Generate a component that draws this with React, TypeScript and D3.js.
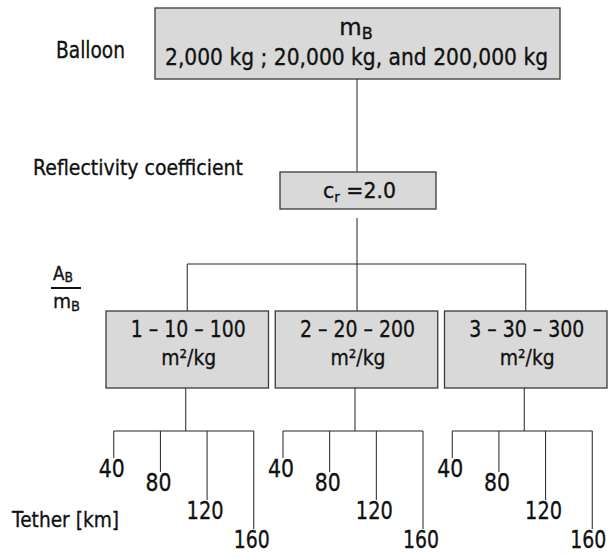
import React from "react";
import * as d3 from "d3";

// ---- data ----
const balloonLabel = "Balloon";
const balloonMasses = ["2,000 kg", "20,000 kg", "200,000 kg"];
const reflectivityLabel = "Reflectivity coefficient";
const reflectivityValue = "2.0";
const areaRatios = ["1 – 10 – 100", "2 – 20 – 200", "3 – 30 – 300"];
const areaUnit = "m²/kg";
const tetherLengths = [40, 80, 120, 160];
const tetherLabel = "Tether [km]";

// ---- layout ----
const W = 613;
const H = 557;
const FONT = "'DejaVu Sans', sans-serif";
const tetherDrop = [27, 41, 69, 98];
const tetherTextWidth = [26, 26, 37, 36];
const INK = "#111";
const EMB = 0.35;

type LabelProps = {
  x: number;
  y: number;
  size: number;
  width?: number;
  anchor?: "start" | "middle" | "end";
  children: React.ReactNode;
};

function Label({ x, y, size, width, anchor = "start", children }: LabelProps) {
  return (
    <text
      x={x}
      y={y}
      fontSize={size}
      fontFamily={FONT}
      fill={INK}
      stroke={INK}
      strokeWidth={EMB}
      textAnchor={anchor}
      textLength={width}
      lengthAdjust={width ? "spacingAndGlyphs" : undefined}
    >
      {children}
    </text>
  );
}

export default function App() {
  const boxBand = d3
    .scaleBand<string>()
    .domain(areaRatios)
    .range([106, 607])
    .paddingInner(0.04);
  const tetherX = d3
    .scaleLinear()
    .domain([d3.min(tetherLengths)!, d3.max(tetherLengths)!])
    .range([-72, 68]);

  const topBox = { x0: 155, x1: 560, y0: 8, y1: 79 };
  const crBox = { x0: 280, x1: 436, y0: 172, y1: 209 };
  const midX = 357;
  const boxTop = 311;
  const boxBottom = 388;
  const branchY = 264;
  const tetherY = 431;

  const boxFill = "#d9d9d9";
  const boxStroke = "#3a3a3a";
  const lineStroke = "#222";

  const massText = `${balloonMasses[0]} ; ${balloonMasses[1]}, and ${balloonMasses[2]}`;

  return (
    <svg
      width={W}
      height={H}
      style={{ position: "absolute", left: 0, top: 0, background: "#fff" }}
    >
      {/* Balloon level */}
      <Label x={56} y={58} size={23} width={69}>
        {balloonLabel}
      </Label>
      <rect
        x={topBox.x0}
        y={topBox.y0}
        width={topBox.x1 - topBox.x0}
        height={topBox.y1 - topBox.y0}
        fill={boxFill}
        stroke={boxStroke}
        strokeWidth={1.3}
      />
      <text x={356} y={35} fontFamily={FONT} fill={INK} stroke={INK} strokeWidth={EMB} textAnchor="middle" fontSize={23}>
        m
        <tspan fontSize={16} dy={4}>
          B
        </tspan>
      </text>
      <Label x={356.5} y={65} size={23} width={383} anchor="middle">
        {massText}
      </Label>

      {/* connector to reflectivity */}
      <line x1={midX} x2={midX} y1={topBox.y1} y2={crBox.y0} stroke={lineStroke} />

      {/* Reflectivity level */}
      <Label x={33} y={175} size={21} width={210}>
        {reflectivityLabel}
      </Label>
      <rect
        x={crBox.x0}
        y={crBox.y0}
        width={crBox.x1 - crBox.x0}
        height={crBox.y1 - crBox.y0}
        fill={boxFill}
        stroke={boxStroke}
        strokeWidth={1.3}
      />
      <text x={323} y={198} fontFamily={FONT} fill={INK} stroke={INK} strokeWidth={EMB} fontSize={21} textLength={73} lengthAdjust="spacingAndGlyphs">
        c
        <tspan fontSize={14} dy={4}>
          r
        </tspan>
        <tspan dy={-4}>{" =" + reflectivityValue}</tspan>
      </text>

      {/* connector to area ratio boxes */}
      <line x1={midX} x2={midX} y1={218} y2={boxTop} stroke={lineStroke} />
      <line
        x1={boxBand(areaRatios[0])! + boxBand.bandwidth() / 2}
        x2={boxBand(areaRatios[areaRatios.length - 1])! + boxBand.bandwidth() / 2}
        y1={branchY}
        y2={branchY}
        stroke={lineStroke}
      />

      {/* A_B / m_B fraction */}
      <text x={53} y={280} fontFamily={FONT} fill={INK} stroke={INK} strokeWidth={EMB} fontSize={19} textLength={20} lengthAdjust="spacingAndGlyphs">
        A
        <tspan fontSize={14} dy={2}>
          B
        </tspan>
      </text>
      <line x1={51} x2={81} y1={288} y2={288} stroke="#111" strokeWidth={2} />
      <text x={53} y={308} fontFamily={FONT} fill={INK} stroke={INK} strokeWidth={EMB} fontSize={20} textLength={27} lengthAdjust="spacingAndGlyphs">
        m
        <tspan fontSize={14} dy={3}>
          B
        </tspan>
      </text>

      {/* area ratio boxes */}
      {areaRatios.map((r, i) => {
        const x0 = boxBand(r)!;
        const cx = x0 + boxBand.bandwidth() / 2;
        const tx = cx - 1.5;
        return (
          <g key={r}>
            {i !== 1 && (
              <line x1={cx} x2={cx} y1={branchY} y2={boxTop} stroke={lineStroke} />
            )}
            <rect
              x={x0}
              y={boxTop}
              width={boxBand.bandwidth()}
              height={boxBottom - boxTop}
              fill={boxFill}
              stroke={boxStroke}
              strokeWidth={1.3}
            />
            <Label x={cx + 1} y={337} size={23} width={115} anchor="middle">
              {r}
            </Label>
            <Label x={cx + 1.5} y={365} size={22} width={55} anchor="middle">
              {areaUnit}
            </Label>
            {/* tether branch */}
            <line x1={tx} x2={tx} y1={boxBottom} y2={tetherY} stroke={lineStroke} />
            <line
              x1={tx + tetherX(tetherLengths[0])}
              x2={tx + tetherX(tetherLengths[tetherLengths.length - 1])}
              y1={tetherY}
              y2={tetherY}
              stroke={lineStroke}
            />
            {tetherLengths.map((t, j) => {
              const lx = tx + tetherX(t);
              const y2 = tetherY + tetherDrop[j];
              const shift = j === tetherLengths.length - 1 && i === areaRatios.length - 1 ? -4 : -2;
              return (
                <g key={t}>
                  <line x1={lx} x2={lx} y1={tetherY} y2={y2} stroke={lineStroke} />
                  <Label x={lx + shift} y={y2 + 19} size={24} width={tetherTextWidth[j]} anchor="middle">
                    {String(t)}
                  </Label>
                </g>
              );
            })}
          </g>
        );
      })}

      <Label x={12} y={527} size={21} width={107}>
        {tetherLabel}
      </Label>
    </svg>
  );
}
